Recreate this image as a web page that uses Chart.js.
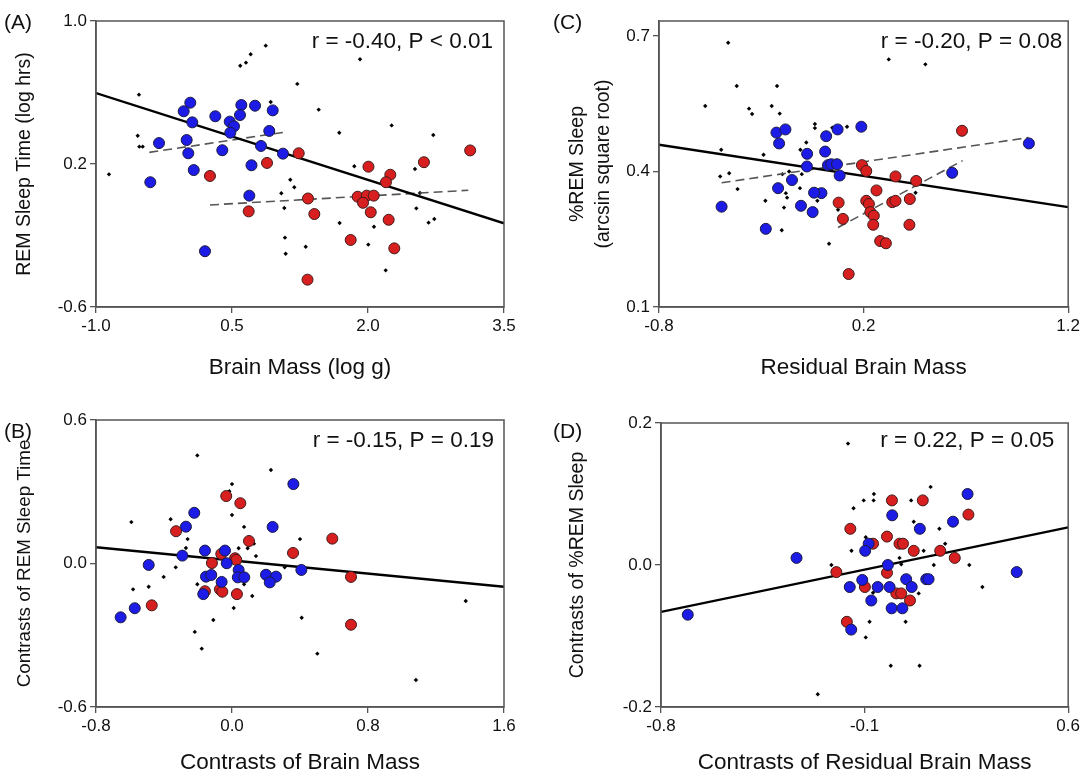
<!DOCTYPE html>
<html><head><meta charset="utf-8">
<script src="https://cdn.jsdelivr.net/npm/chart.js@4.4.1/dist/chart.umd.min.js"></script>
<style>
html,body{margin:0;padding:0;background:#fff;}
#wrap{position:relative;width:1083px;height:776px;overflow:hidden;background:#fff;}
canvas{position:absolute;}
</style></head><body>
<div id="wrap">
<canvas id="cA" width="540" height="390" style="left:0px;top:0px"></canvas>
<canvas id="cC" width="543" height="390" style="left:540px;top:0px"></canvas>
<canvas id="cB" width="540" height="386" style="left:0px;top:390px"></canvas>
<canvas id="cD" width="543" height="386" style="left:540px;top:390px"></canvas>
</div>
<script>
// ---------- Panel A: REM sleep time vs brain mass ----------
const aBlue = [[0.040,0.543],[-0.033,0.495],[0.062,0.433],[0.316,0.467],[0.603,0.530],[0.754,0.526],[0.949,0.500],[0.588,0.474],[0.475,0.437],[0.522,0.411],[0.481,0.375],[0.911,0.385],[-0.305,0.317],[0.000,0.334],[0.018,0.260],[0.393,0.277],[0.820,0.301],[1.062,0.258],[0.715,0.193],[0.078,0.166],[-0.401,0.098],[0.691,0.023],[0.202,-0.288]];
const aRed = [[1.236,0.260],[0.886,0.206],[3.127,0.276],[2.617,0.210],[2.005,0.185],[0.257,0.133],[1.338,0.007],[0.684,-0.065],[1.333,-0.447],[2.246,0.140],[2.198,0.098],[1.886,0.017],[1.986,0.023],[2.063,0.023],[1.945,-0.017],[1.408,-0.080],[2.030,-0.070],[2.228,-0.112],[1.809,-0.225],[2.290,-0.272]];
const aBlack = [[0.872,0.862],[0.706,0.814],[0.654,0.767],[0.591,0.750],[1.220,0.648],[-0.526,0.588],[0.927,0.547],[-0.540,0.358],[-0.522,0.297],[-0.485,0.297],[1.912,0.786],[1.456,0.504],[1.683,0.375],[2.261,0.416],[2.720,0.362],[-0.857,0.142],[1.143,0.112],[1.187,0.070],[1.044,0.036],[1.077,-0.046],[1.084,-0.212],[1.092,-0.302],[1.313,-0.263],[1.849,0.187],[2.518,0.172],[2.573,0.038],[2.533,-0.048],[1.687,-0.130],[2.066,-0.151],[2.668,-0.128],[2.731,-0.108],[2.003,-0.251],[2.195,-0.395]];
const aFit = [[-1.0,0.597],[3.5,-0.132]];
const aBlueFit = [[-0.412,0.265],[1.066,0.377]];
const aRedFit = [[0.257,-0.029],[3.106,0.053]];
const aXTicks = [-1.0,0.5,2.0,3.5];
const aXLabels = ["-1.0","0.5","2.0","3.5"];
const aYTicks = [-0.6,0.2,1.0];
const aYLabels = ["-0.6","0.2","1.0"];

// ---------- Panel C: %REM sleep vs residual brain mass ----------
const cBlue = [[-0.226,0.486],[-0.182,0.493],[-0.213,0.462],[-0.076,0.439],[0.017,0.478],[0.012,0.444],[-0.077,0.411],[0.026,0.414],[0.073,0.493],[0.189,0.499],[1.008,0.462],[0.042,0.416],[0.070,0.416],[0.083,0.391],[0.633,0.397],[-0.006,0.352],[-0.150,0.381],[-0.218,0.363],[-0.042,0.353],[-0.494,0.322],[-0.106,0.324],[-0.049,0.310],[-0.278,0.273]];
const cRed = [[0.681,0.490],[0.192,0.414],[0.213,0.401],[0.356,0.389],[0.457,0.379],[0.263,0.358],[0.078,0.331],[0.213,0.335],[0.226,0.328],[0.340,0.332],[0.356,0.335],[0.426,0.339],[0.233,0.310],[0.250,0.302],[0.099,0.295],[0.247,0.282],[0.424,0.282],[0.281,0.246],[0.309,0.241],[0.127,0.173]];
const cBlack = [[-0.462,0.685],[-0.420,0.589],[-0.223,0.589],[-0.574,0.545],[-0.360,0.539],[-0.345,0.527],[-0.249,0.545],[-0.210,0.528],[-0.038,0.505],[-0.038,0.496],[-0.080,0.464],[-0.496,0.448],[-0.289,0.437],[-0.109,0.448],[-0.501,0.389],[-0.457,0.396],[-0.197,0.394],[-0.164,0.400],[-0.102,0.394],[-0.416,0.361],[-0.180,0.352],[-0.174,0.342],[-0.280,0.335],[-0.111,0.363],[-0.026,0.335],[-0.189,0.320],[-0.200,0.270],[0.031,0.240],[0.323,0.648],[0.502,0.637],[0.047,0.497],[0.119,0.499],[0.454,0.353],[0.075,0.315]];
const cFit = [[-0.8,0.459],[1.2,0.321]];
const cBlueFit = [[-0.494,0.375],[1.006,0.475]];
const cRedFit = [[0.075,0.276],[0.684,0.424]];
const cXTicks = [-0.8,0.2,1.2];
const cXLabels = ["-0.8","0.2","1.2"];
const cYTicks = [0.1,0.4,0.7];
const cYLabels = ["0.1","0.4","0.7"];

// ---------- Panel B: contrasts of REM sleep time vs contrasts of brain mass ----------
const bBlue = [[0.361,0.332],[-0.222,0.212],[-0.271,0.154],[0.239,0.153],[-0.159,0.054],[-0.041,0.054],[-0.292,0.033],[-0.490,-0.006],[-0.031,0.001],[0.039,-0.027],[-0.153,-0.055],[-0.122,-0.048],[0.034,-0.058],[0.072,-0.058],[0.200,-0.047],[0.259,-0.055],[0.222,-0.079],[-0.061,-0.077],[0.408,-0.027],[-0.169,-0.128],[-0.572,-0.187],[-0.655,-0.225]];
const bRed = [[-0.034,0.282],[0.049,0.252],[-0.329,0.135],[0.100,0.094],[0.359,0.044],[-0.063,0.040],[0.018,0.022],[0.025,0.015],[-0.118,0.002],[-0.159,-0.116],[-0.071,-0.108],[-0.057,-0.118],[0.029,-0.128],[-0.472,-0.175],[0.590,0.104],[0.700,-0.056],[0.700,-0.256]];
const bBlack = [[-0.204,0.452],[0.229,0.391],[0.000,0.332],[-0.016,0.302],[-0.592,0.173],[-0.361,0.185],[0.000,0.203],[0.071,0.153],[0.400,0.102],[-0.261,0.102],[-0.271,0.065],[0.039,0.064],[0.092,0.064],[0.129,0.083],[0.141,0.031],[-0.331,-0.016],[-0.402,-0.056],[0.310,-0.016],[-0.204,-0.087],[0.071,-0.087],[-0.490,-0.097],[-0.582,-0.108],[0.119,-0.136],[0.010,-0.186],[-0.110,-0.236],[-0.219,-0.286],[0.410,-0.227],[-0.178,-0.356],[0.502,-0.377],[1.082,-0.487],[1.375,-0.157]];
const bFit = [[-0.8,0.068],[1.6,-0.097]];
const bXTicks = [-0.8,0.0,0.8,1.6];
const bXLabels = ["-0.8","0.0","0.8","1.6"];
const bYTicks = [-0.6,0.0,0.6];
const bYLabels = ["-0.6","0.0","0.6"];

// ---------- Panel D: contrasts of %REM sleep vs contrasts of residual brain mass ----------
const dBlue = [[-0.334,0.010],[-0.151,-0.031],[-0.146,-0.091],[-0.708,-0.070],[-0.108,-0.021],[0.254,0.100],[-0.005,0.070],[0.204,0.061],[0.090,0.051],[-0.086,0.030],[-0.098,0.020],[-0.020,0.000],[0.423,-0.010],[-0.055,-0.031],[-0.014,-0.031],[0.043,-0.020],[0.062,-0.031],[0.112,-0.020],[0.120,-0.020],[-0.077,-0.050],[-0.007,-0.061],[0.030,-0.061]];
const dRed = [[-0.149,0.051],[-0.197,-0.010],[-0.161,-0.080],[-0.006,0.091],[0.100,0.091],[0.257,0.071],[-0.023,0.040],[-0.071,0.030],[0.020,0.030],[0.032,0.030],[0.069,0.020],[0.160,0.020],[0.210,0.010],[-0.023,-0.011],[-0.099,-0.031],[0.009,-0.040],[0.026,-0.040],[0.056,-0.050]];
const dBlack = [[-0.157,0.171],[-0.138,0.080],[-0.145,0.020],[-0.214,0.000],[-0.261,-0.182],[0.127,0.110],[-0.068,0.100],[-0.103,0.091],[-0.069,0.091],[0.060,0.091],[0.069,0.061],[0.157,0.051],[-0.096,0.039],[0.177,0.030],[0.103,0.020],[0.020,0.010],[0.026,0.001],[0.138,0.000],[0.260,0.000],[0.305,-0.031],[-0.071,-0.039],[0.086,-0.040],[-0.083,-0.080],[0.041,-0.080],[-0.096,-0.102],[-0.010,-0.142],[0.089,-0.142]];
const dFit = [[-0.8,-0.066],[0.6,0.053]];
const dXTicks = [-0.8,-0.1,0.6];
const dXLabels = ["-0.8","-0.1","0.6"];
const dYTicks = [-0.2,0.0,0.2];
const dYLabels = ["-0.2","0.0","0.2"];

// ---------- rendering ----------
const FONT = "'Liberation Sans', Arial, Helvetica, sans-serif";
const AXIS = '#555555';
const pts = arr => arr.map(([x, y]) => ({x, y}));

function makePanel(id, p) {
  const datasets = [
    {data: pts(p.black), pointStyle: 'rectRot', pointRadius: 2.2, backgroundColor: '#000', borderColor: '#000', borderWidth: 0, order: 4},
    {data: pts(p.blue), pointRadius: 5.5, backgroundColor: '#1c1ce6', borderColor: '#1a1a40', borderWidth: 1, order: 1},
    {data: pts(p.red), pointRadius: 5.5, backgroundColor: '#d81f1f', borderColor: '#401a1a', borderWidth: 1, order: 1},
    {type: 'line', data: pts(p.fit), borderColor: '#000', borderWidth: 2.4, pointRadius: 0, fill: false, order: 2}
  ];
  (p.dashed || []).forEach(d => datasets.push({type: 'line', data: pts(d), borderColor: '#555', borderWidth: 1.6, borderDash: [9, 5], pointRadius: 0, fill: false, order: 3}));

  const decor = {
    id: 'decor' + id,
    afterDraw(chart) {
      const {ctx, chartArea: a} = chart;
      ctx.save();
      ctx.strokeStyle = AXIS; ctx.lineWidth = 1.5;
      ctx.strokeRect(a.left, a.top, a.right - a.left, a.bottom - a.top);
      ctx.fillStyle = '#111';
      ctx.font = '22.5px ' + FONT;
      ctx.textAlign = 'right'; ctx.textBaseline = 'alphabetic';
      ctx.fillText(p.note, a.right - p.noteDx, p.noteY);
      ctx.font = '21px ' + FONT;
      ctx.textAlign = 'left'; ctx.textBaseline = 'middle';
      ctx.fillText(p.tag, p.tagX, p.tagY);
      ctx.restore();
    }
  };

  new Chart(document.getElementById(id), {
    type: 'scatter',
    data: {datasets},
    plugins: [decor],
    options: {
      responsive: false, animation: false, devicePixelRatio: 1,
      layout: {padding: {top: p.padTop, right: p.padRight, left: 0, bottom: 0}},
      plugins: {legend: {display: false}, tooltip: {enabled: false}},
      scales: {
        x: {
          type: 'linear', min: p.xMin, max: p.xMax,
          afterBuildTicks: s => { s.ticks = p.xTicks.map(v => ({value: v})); },
          afterFit: s => { s.height = p.xH; },
          ticks: {callback: (v, i) => p.xLabels[i], color: '#111', font: {size: 17, family: FONT}, padding: 3, maxRotation: 0, autoSkip: false},
          grid: {drawOnChartArea: false, drawTicks: true, tickLength: 6, color: AXIS, lineWidth: 1.3},
          border: {display: true, color: AXIS, width: 1.5},
          title: {display: true, text: p.xTitle, color: '#111', font: {size: 22.5, family: FONT}, padding: {top: 4, bottom: p.xTitlePad}}
        },
        y: {
          type: 'linear', min: p.yMin, max: p.yMax,
          afterBuildTicks: s => { s.ticks = p.yTicks.map(v => ({value: v})); },
          afterFit: s => { s.width = p.yW; },
          ticks: {callback: (v, i) => p.yLabels[i], color: '#111', font: {size: 17, family: FONT}, padding: 3, autoSkip: false},
          grid: {drawOnChartArea: false, drawTicks: true, tickLength: 6, color: AXIS, lineWidth: 1.3},
          border: {display: true, color: AXIS, width: 1.5},
          title: {display: true, text: p.yTitle, color: '#111', font: {size: p.ySize || 19.5, family: FONT, lineHeight: p.yLH || 1.2}, padding: {top: p.yTitlePad, bottom: 0}}
        }
      }
    }
  });
}

makePanel('cA', {
  blue: aBlue, red: aRed, black: aBlack, fit: aFit, dashed: [aBlueFit, aRedFit],
  xMin: -1.0, xMax: 3.5, yMin: -0.6, yMax: 1.0,
  xTicks: aXTicks, xLabels: aXLabels, yTicks: aYTicks, yLabels: aYLabels,
  padTop: 21, padRight: 36, yW: 96, xH: 83,
  xTitle: 'Brain Mass (log g)', xTitlePad: 8.5,
  yTitle: 'REM Sleep Time (log hrs)', yTitlePad: 13.3,
  note: 'r = -0.40, P < 0.01', noteDx: 11, noteY: 48,
  tag: '(A)', tagX: 4, tagY: 23
});
makePanel('cC', {
  blue: cBlue, red: cRed, black: cBlack, fit: cFit, dashed: [cBlueFit, cRedFit],
  xMin: -0.8, xMax: 1.2, yMin: 0.1, yMax: 0.733,
  xTicks: cXTicks, xLabels: cXLabels, yTicks: cYTicks, yLabels: cYLabels,
  padTop: 21, padRight: 14, yW: 119, xH: 83,
  xTitle: 'Residual Brain Mass', xTitlePad: 8.5,
  yTitle: ['%REM Sleep', '(arcsin square root)'], yLH: 1.333, yTitlePad: 25,
  note: 'r = -0.20, P = 0.08', noteDx: 6, noteY: 48,
  tag: '(C)', tagX: 13, tagY: 23
});
makePanel('cB', {
  blue: bBlue, red: bRed, black: bBlack, fit: bFit, dashed: [],
  xMin: -0.8, xMax: 1.6, yMin: -0.6, yMax: 0.6,
  xTicks: bXTicks, xLabels: bXLabels, yTicks: bYTicks, yLabels: bYLabels,
  padTop: 30, padRight: 36, yW: 96, xH: 69,
  xTitle: 'Contrasts of Brain Mass', xTitlePad: 0,
  yTitle: 'Contrasts of REM Sleep Time', ySize: 18.8, yTitlePad: 13.7,
  note: 'r = -0.15, P = 0.19', noteDx: 10, noteY: 57,
  tag: '(B)', tagX: 4, tagY: 42
});
makePanel('cD', {
  blue: dBlue, red: dRed, black: dBlack, fit: dFit, dashed: [],
  xMin: -0.8, xMax: 0.6, yMin: -0.2, yMax: 0.2,
  xTicks: dXTicks, xLabels: dXLabels, yTicks: dYTicks, yLabels: dYLabels,
  padTop: 33, padRight: 14, yW: 121, xH: 69,
  xTitle: 'Contrasts of Residual Brain Mass', xTitlePad: 0,
  yTitle: 'Contrasts of %REM Sleep', yTitlePad: 26.3,
  note: 'r = 0.22, P = 0.05', noteDx: 14, noteY: 57,
  tag: '(D)', tagX: 13, tagY: 42
});
</script>
</body></html>
